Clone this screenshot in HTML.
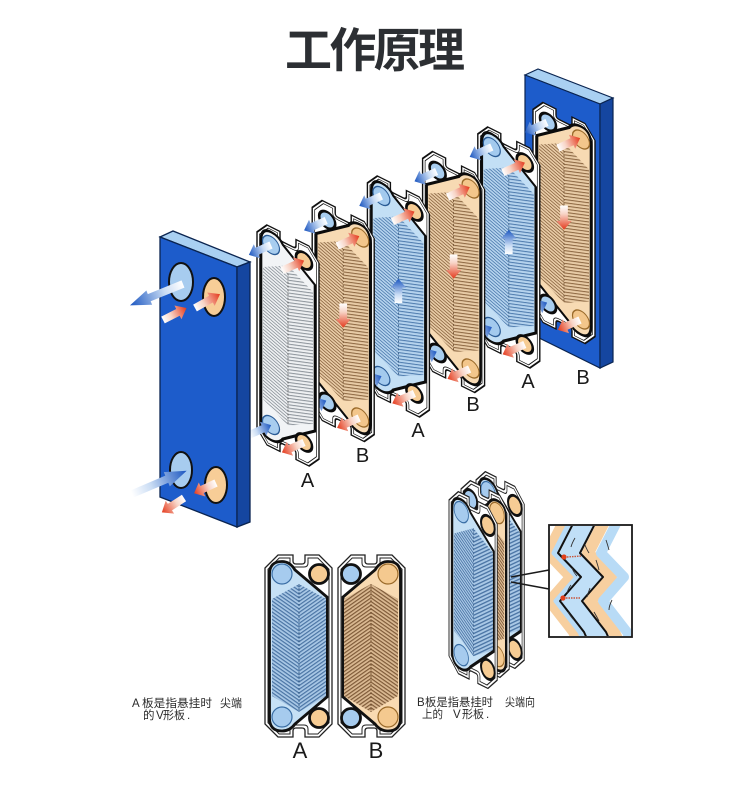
<!DOCTYPE html>
<html><head><meta charset="utf-8"><style>
html,body{margin:0;padding:0;background:#fff;}
svg{display:block;}
text{font-family:"Liberation Sans","Noto Sans CJK SC",sans-serif;}
</style></head><body>
<svg width="750" height="793" viewBox="0 0 750 793" xmlns="http://www.w3.org/2000/svg">
<defs>
<linearGradient id="gB" x1="0" y1="0" x2="1" y2="0"><stop offset="0" stop-color="#ffffff"/><stop offset="0.35" stop-color="#c9dcf4"/><stop offset="1" stop-color="#1a55c0"/></linearGradient>
<linearGradient id="gR" x1="0" y1="0" x2="1" y2="0"><stop offset="0" stop-color="#ffffff"/><stop offset="0.35" stop-color="#f8d4c6"/><stop offset="1" stop-color="#e4391c"/></linearGradient>
<path id="aB" d="M0,-3.5 L14,-3.5 L14,-7 L22,0 L14,7 L14,3.5 L0,3.5 Z" fill="url(#gB)"/>
<path id="aR" d="M0,-3.5 L14,-3.5 L14,-7 L22,0 L14,7 L14,3.5 L0,3.5 Z" fill="url(#gR)"/>

<pattern id="pBl" width="3" height="3" patternUnits="userSpaceOnUse" patternTransform="rotate(20)"><rect width="3" height="3" fill="#b5d3ee"/><rect width="3" height="1" fill="#4f7cae"/></pattern>
<pattern id="pBr" width="3" height="3" patternUnits="userSpaceOnUse" patternTransform="rotate(-20)"><rect width="3" height="3" fill="#b5d3ee"/><rect width="3" height="1" fill="#4f7cae"/></pattern>
<pattern id="pTl" width="3" height="3" patternUnits="userSpaceOnUse" patternTransform="rotate(20)"><rect width="3" height="3" fill="#e8cba6"/><rect width="3" height="1" fill="#8d6843"/></pattern>
<pattern id="pTr" width="3" height="3" patternUnits="userSpaceOnUse" patternTransform="rotate(-20)"><rect width="3" height="3" fill="#e8cba6"/><rect width="3" height="1" fill="#8d6843"/></pattern>
<pattern id="pGl" width="3" height="3" patternUnits="userSpaceOnUse" patternTransform="rotate(20)"><rect width="3" height="3" fill="#eef0f2"/><rect width="3" height="1" fill="#8e959c"/></pattern>
<pattern id="pGr" width="3" height="3" patternUnits="userSpaceOnUse" patternTransform="rotate(-20)"><rect width="3" height="3" fill="#eef0f2"/><rect width="3" height="1" fill="#8e959c"/></pattern>

<pattern id="fBl" width="3" height="3" patternUnits="userSpaceOnUse" patternTransform="rotate(35)"><rect width="3" height="3" fill="#a9c8e6"/><rect width="3" height="1.2" fill="#4a74a4"/></pattern>
<pattern id="fBr" width="3" height="3" patternUnits="userSpaceOnUse" patternTransform="rotate(-35)"><rect width="3" height="3" fill="#a9c8e6"/><rect width="3" height="1.2" fill="#4a74a4"/></pattern>
<pattern id="fTl" width="3" height="3" patternUnits="userSpaceOnUse" patternTransform="rotate(-35)"><rect width="3" height="3" fill="#dbba93"/><rect width="3" height="1.2" fill="#7e5a38"/></pattern>
<pattern id="fTr" width="3" height="3" patternUnits="userSpaceOnUse" patternTransform="rotate(35)"><rect width="3" height="3" fill="#dbba93"/><rect width="3" height="1.2" fill="#7e5a38"/></pattern>

<path id="out3" d="M0,14 L10,2 L23,2 L23,8 Q23,11 26,11 L36,11 Q39,11 39,8 L39,2 L52,2 L62,14 L62,210 L52,222 L39,222 L39,216 Q39,213 36,213 L26,213 Q23,213 23,216 L23,222 L10,222 L0,210 Z"/>
<path id="in3" d="M2.5,15 L11.2,4.5 L20.5,4.5 L20.5,9 Q20.5,13.5 26,13.5 L36,13.5 Q41.5,13.5 41.5,9 L41.5,4.5 L50.8,4.5 L59.5,15 L59.5,209 L50.8,219.5 L41.5,219.5 L41.5,215 Q41.5,210.5 36,210.5 L26,210.5 Q20.5,210.5 20.5,215 L20.5,219.5 L11.2,219.5 L2.5,209 Z"/>
<path id="gas3" d="M4,20 Q4,7 14,7 Q22,7 26,14 L58,38 L58,184 L26,208 Q22,215 14,215 Q4,215 4,202 Z"/>

<g id="t3G">
<use href="#out3" fill="#fff" stroke="#111" stroke-width="1.4"/>
<use href="#in3" fill="none" stroke="#111" stroke-width="0.7"/>
<use href="#gas3" fill="#f2f4f6" stroke="#0b0b0b" stroke-width="2.6"/>
<polygon points="6,46 31,32 31,192 6,178" fill="url(#pGl)"/>
<polygon points="31,32 56,46 56,178 31,192" fill="url(#pGr)"/>
<line x1="31" y1="32" x2="31" y2="192" stroke="#555" stroke-width="0.8" stroke-dasharray="2 2"/>
<circle cx="14" cy="20" r="8.5" fill="#a8cdef" stroke="#2a5b95" stroke-width="1.2"/>
<circle cx="14" cy="200" r="8.5" fill="#a8cdef" stroke="#2a5b95" stroke-width="1.2"/>
<circle cx="47" cy="19" r="8" fill="#f6cc94" stroke="#0b0b0b" stroke-width="2.6"/>
<circle cx="47" cy="201" r="8" fill="#f6cc94" stroke="#0b0b0b" stroke-width="2.6"/>
</g>
<g id="t3A">
<use href="#out3" fill="#fff" stroke="#111" stroke-width="1.4"/>
<use href="#in3" fill="none" stroke="#111" stroke-width="0.7"/>
<use href="#gas3" fill="#c3dff5" stroke="#0b0b0b" stroke-width="2.6"/>
<polygon points="6,46 31,32 31,192 6,178" fill="url(#pBl)"/>
<polygon points="31,32 56,46 56,178 31,192" fill="url(#pBr)"/>
<line x1="31" y1="32" x2="31" y2="192" stroke="#2f5580" stroke-width="0.8" stroke-dasharray="2 2"/>
<circle cx="14" cy="20" r="8.5" fill="#a3caee" stroke="#2a5b95" stroke-width="1.2"/>
<circle cx="14" cy="200" r="8.5" fill="#a3caee" stroke="#2a5b95" stroke-width="1.2"/>
<circle cx="47" cy="19" r="8" fill="#f6cc94" stroke="#0b0b0b" stroke-width="2.6"/>
<circle cx="47" cy="201" r="8" fill="#f6cc94" stroke="#0b0b0b" stroke-width="2.6"/>
</g>
<g id="t3B">
<use href="#out3" fill="#fff" stroke="#111" stroke-width="1.4"/>
<use href="#in3" fill="none" stroke="#111" stroke-width="0.7"/>
<g transform="translate(62,0) scale(-1,1)">
<use href="#gas3" fill="#f7dab3" stroke="#0b0b0b" stroke-width="2.6"/>
<polygon points="6,46 31,32 31,192 6,178" fill="url(#pTl)"/>
<polygon points="31,32 56,46 56,178 31,192" fill="url(#pTr)"/>
<line x1="31" y1="32" x2="31" y2="192" stroke="#6b4a2a" stroke-width="0.8" stroke-dasharray="2 2"/>
<circle cx="14" cy="20" r="8.5" fill="#f3c68b" stroke="#9a6a2a" stroke-width="1.2"/>
<circle cx="14" cy="200" r="8.5" fill="#f3c68b" stroke="#9a6a2a" stroke-width="1.2"/>
<circle cx="47" cy="19" r="8" fill="#a8cdef" stroke="#0b0b0b" stroke-width="2.6"/>
<circle cx="47" cy="201" r="8" fill="#a8cdef" stroke="#0b0b0b" stroke-width="2.6"/>
</g>
</g>

<path id="outF" d="M0,13 L13,0 L28,0 L28,6 Q28,9 31,9 L37,9 Q40,9 40,6 L40,0 L54,0 L67,13 L67,169 L54,182 L40,182 L40,176 Q40,173 37,173 L31,173 Q28,173 28,176 L28,182 L13,182 L0,169 Z"/>
<path id="inF" d="M3,14.2 L14.2,3 L25,3 L25,8 Q25,12 29,12 L39,12 Q43,12 43,8 L43,3 L52.8,3 L64,14.2 L64,167.8 L52.8,179 L43,179 L43,174 Q43,170 39,170 L29,170 Q25,170 25,174 L25,179 L14.2,179 L3,167.8 Z"/>
<path id="gasF" d="M4.5,19 Q4.5,6.5 17,6.5 Q25,6.5 30,15 L62,42 L62,142 L30,169 Q25,176 17,176 Q4.5,176 4.5,163 Z"/>

<g id="fA">
<use href="#outF" fill="#fff" stroke="#222" stroke-width="1.3"/>
<use href="#inF" fill="none" stroke="#222" stroke-width="1"/>
<use href="#gasF" fill="#c5e0f5" stroke="#111" stroke-width="2.8"/>
<polygon points="7,44 34,29 34,157 7,141" fill="url(#fBl)"/>
<polygon points="34,29 61,44 61,141 34,157" fill="url(#fBr)"/>
<line x1="34" y1="29" x2="34" y2="157" stroke="#2f5580" stroke-width="0.8" stroke-dasharray="2 2"/>
<circle cx="17" cy="19" r="10" fill="#a6cbee" stroke="#3a6ea5" stroke-width="1.2"/>
<circle cx="17" cy="162" r="10" fill="#a6cbee" stroke="#3a6ea5" stroke-width="1.2"/>
<circle cx="54" cy="19" r="9.5" fill="#f6cc94" stroke="#111" stroke-width="2.8"/>
<circle cx="54" cy="163" r="9.5" fill="#f6cc94" stroke="#111" stroke-width="2.8"/>
</g>
<g id="fB">
<g transform="translate(67,0) scale(-1,1)">
<use href="#outF" fill="#fff" stroke="#222" stroke-width="1.3"/>
<use href="#inF" fill="none" stroke="#222" stroke-width="1"/>
<use href="#gasF" fill="#f8dab2" stroke="#111" stroke-width="2.8"/>
<polygon points="7,44 34,29 34,157 7,141" fill="url(#fTl)"/>
<polygon points="34,29 61,44 61,141 34,157" fill="url(#fTr)"/>
<line x1="34" y1="29" x2="34" y2="157" stroke="#6b4a2a" stroke-width="0.8" stroke-dasharray="2 2"/>
<circle cx="17" cy="19" r="10" fill="#f4c98f" stroke="#9a6a2a" stroke-width="1.2"/>
<circle cx="17" cy="162" r="10" fill="#f4c98f" stroke="#9a6a2a" stroke-width="1.2"/>
<circle cx="54" cy="19" r="9.5" fill="#a6cbee" stroke="#111" stroke-width="2.8"/>
<circle cx="54" cy="163" r="9.5" fill="#a6cbee" stroke="#111" stroke-width="2.8"/>
</g>
</g>

<polyline id="zz" points="578,514 558,553 581,577 560,601 584,632 592,650" fill="none" stroke-linejoin="round"/>
<clipPath id="cb"><rect x="550" y="526" width="81" height="110"/></clipPath>
</defs>

<!-- Title -->
<text x="375" y="67" font-size="47" font-weight="bold" fill="#2c2f33" text-anchor="middle" textLength="180" lengthAdjust="spacing">工作原理</text>

<!-- Right frame -->
<polygon points="525,75 538,69 613,98 600,104" fill="#a9d0f2" stroke="#0a2450" stroke-width="1.2"/>
<polygon points="525,75 600,104 600,368 525,331" fill="#1d5ccb" stroke="#0a2450" stroke-width="1.2"/>
<polygon points="600,104 613,98 613,362 600,368" fill="#1546a0" stroke="#0a2450" stroke-width="1.2"/>

<!-- plate k=5 (B) on right frame -->
<use href="#t3B" transform="translate(533,95.5) matrix(1,0.5,0,1,0,0)"/>
<use href="#aB" transform="translate(547,122.5) rotate(156) scale(1.1)"/>
<use href="#aR" transform="translate(558,148) rotate(-24) scale(1.1)"/>
<use href="#aB" transform="translate(525,312.5) rotate(-24) scale(1.1)"/>
<use href="#aR" transform="translate(580,320) rotate(156) scale(1.1)"/>
<use href="#aR" transform="translate(564,205.5) rotate(90) scale(1.1)"/>

<!-- k=4 (A blue) -->
<use href="#t3A" transform="translate(477.8,120) matrix(1,0.5,0,1,0,0)"/>
<use href="#aB" transform="translate(491.8,147) rotate(156) scale(1.1)"/>
<use href="#aR" transform="translate(502.8,172.5) rotate(-24) scale(1.1)"/>
<use href="#aB" transform="translate(469.8,337) rotate(-24) scale(1.1)"/>
<use href="#aR" transform="translate(524.8,344.5) rotate(156) scale(1.1)"/>
<use href="#aB" transform="translate(508.8,254) rotate(-90) scale(1.1)"/>

<!-- k=3 (B tan) -->
<use href="#t3B" transform="translate(422.6,144.5) matrix(1,0.5,0,1,0,0)"/>
<use href="#aB" transform="translate(436.6,171.5) rotate(156) scale(1.1)"/>
<use href="#aR" transform="translate(447.6,197) rotate(-24) scale(1.1)"/>
<use href="#aB" transform="translate(414.6,361.5) rotate(-24) scale(1.1)"/>
<use href="#aR" transform="translate(469.6,369) rotate(156) scale(1.1)"/>
<use href="#aR" transform="translate(453.6,254.5) rotate(90) scale(1.1)"/>

<!-- k=2 (A blue) -->
<use href="#t3A" transform="translate(367.4,169) matrix(1,0.5,0,1,0,0)"/>
<use href="#aB" transform="translate(381.4,196) rotate(156) scale(1.1)"/>
<use href="#aR" transform="translate(392.4,221.5) rotate(-24) scale(1.1)"/>
<use href="#aB" transform="translate(359.4,386) rotate(-24) scale(1.1)"/>
<use href="#aR" transform="translate(414.4,393.5) rotate(156) scale(1.1)"/>
<use href="#aB" transform="translate(398.4,303) rotate(-90) scale(1.1)"/>

<!-- k=1 (B tan) -->
<use href="#t3B" transform="translate(312.2,193.5) matrix(1,0.5,0,1,0,0)"/>
<use href="#aB" transform="translate(326.2,220.5) rotate(156) scale(1.1)"/>
<use href="#aR" transform="translate(337.2,246) rotate(-24) scale(1.1)"/>
<use href="#aB" transform="translate(304.2,410.5) rotate(-24) scale(1.1)"/>
<use href="#aR" transform="translate(359.2,418) rotate(156) scale(1.1)"/>
<use href="#aR" transform="translate(343.2,303.5) rotate(90) scale(1.1)"/>

<!-- k=0 (grey A) -->
<use href="#t3G" transform="translate(257,218) matrix(1,0.5,0,1,0,0)"/>
<use href="#aB" transform="translate(271,245) rotate(156) scale(1.1)"/>
<use href="#aR" transform="translate(282,270.5) rotate(-24) scale(1.1)"/>
<use href="#aB" transform="translate(249,435) rotate(-24) scale(1.1)"/>
<use href="#aR" transform="translate(304,442.5) rotate(156) scale(1.1)"/>

<!-- Left frame -->
<polygon points="160,237 173,231 250,262 237,267" fill="#a9d0f2" stroke="#0a2450" stroke-width="1.3"/>
<polygon points="160,237 237,267 237,527 160,497" fill="#1d5ccb" stroke="#0a2450" stroke-width="1.3"/>
<polygon points="237,267 250,262 250,522 237,527" fill="#1546a0" stroke="#0a2450" stroke-width="1.3"/>
<ellipse cx="181" cy="282" rx="12" ry="19" fill="#a7ccef" stroke="#111" stroke-width="2"/>
<ellipse cx="214" cy="297" rx="11" ry="19" fill="#f7cd97" stroke="#111" stroke-width="2"/>
<ellipse cx="181" cy="470" rx="11" ry="18" fill="#a7ccef" stroke="#111" stroke-width="2"/>
<ellipse cx="216" cy="485" rx="11" ry="18" fill="#f7cd97" stroke="#111" stroke-width="2"/>
<use href="#aB" transform="translate(183,284) rotate(158) scale(2.6,1.1)"/>
<use href="#aR" transform="translate(195,308) rotate(-29) scale(1.3,1.1)"/>
<use href="#aR" transform="translate(163,320) rotate(-27) scale(1.2,1.1)"/>
<use href="#aB" transform="translate(132,494) rotate(-23) scale(2.7,1.1)"/>
<use href="#aR" transform="translate(216,483) rotate(155) scale(1.1)"/>
<use href="#aR" transform="translate(184,498) rotate(147) scale(1.2,1.1)"/>

<!-- 3D labels -->
<g font-size="20" fill="#1a1a1a" text-anchor="middle">
<text x="307.5" y="487">A</text>
<text x="362.5" y="462">B</text>
<text x="418" y="437">A</text>
<text x="473" y="411">B</text>
<text x="528" y="388">A</text>
<text x="583" y="384">B</text>
</g>

<!-- Front view plates -->
<use href="#fA" transform="translate(265,555)"/>
<use href="#fB" transform="translate(338,555)"/>
<g font-size="22" fill="#1a1a1a" text-anchor="middle">
<text x="300" y="758">A</text>
<text x="376" y="758">B</text>
</g>

<!-- Stacked plates -->
<use href="#fA" transform="matrix(0.72,0.36,0,1,476,467)"/>
<use href="#fB" transform="matrix(0.72,0.36,0,1,461,476)"/>
<use href="#fA" transform="matrix(0.72,0.36,0,1,449,487)"/>

<!-- Callout -->
<line x1="511" y1="577" x2="549" y2="570" stroke="#1a1a1a" stroke-width="1.5"/>
<line x1="511" y1="582" x2="549" y2="589" stroke="#1a1a1a" stroke-width="1.5"/>
<rect x="549" y="525" width="83" height="112" fill="#fff" stroke="#1a1a1a" stroke-width="1.8"/>
<g clip-path="url(#cb)">
<use href="#zz" x="-11" stroke="#f7cf9f" stroke-width="10"/>
<use href="#zz" x="-4" stroke="#b8dbf6" stroke-width="5"/>
<use href="#zz" x="11" stroke="#c0dff7" stroke-width="18"/>
<use href="#zz" x="30" stroke="#f7cf9f" stroke-width="12"/>
<use href="#zz" x="43" stroke="#b8dbf6" stroke-width="10"/>
<use href="#zz" stroke="#111" stroke-width="2"/>
<use href="#zz" x="22" stroke="#111" stroke-width="2"/>
<g fill="none" stroke="#333" stroke-width="0.9">
<path d="M575,538 q-3,5 -4,9"/>
<path d="M585,545 q2,5 4,8"/>
<path d="M572,568 q2,5 5,8"/>
<path d="M596,560 q2,6 3,10"/>
<path d="M571,585 q-3,4 -4,8"/>
<path d="M590,588 q-2,5 -3,9"/>
<path d="M568,612 q3,5 6,8"/>
<path d="M594,612 q3,5 5,9"/>
<path d="M606,540 q2,6 3,10"/>
<path d="M612,600 q-3,6 -3,10"/>
</g>
<circle cx="564" cy="557" r="2.6" fill="#e2401c"/>
<line x1="567" y1="557" x2="582" y2="556" stroke="#c8553a" stroke-width="1.4" stroke-dasharray="1.5 1"/>
<circle cx="563" cy="598" r="2.6" fill="#e2401c"/>
<line x1="566" y1="598" x2="580" y2="598" stroke="#c8553a" stroke-width="1.4" stroke-dasharray="1.5 1"/>
</g>

<!-- Bottom texts -->
<g font-size="11.5" fill="#2a2a2a">
<text x="132" y="707">A</text>
<text x="142" y="707" textLength="70" lengthAdjust="spacingAndGlyphs">板是指悬挂时</text>
<text x="220" y="707" textLength="22" lengthAdjust="spacingAndGlyphs">尖端</text>
<text x="143" y="719">的</text>
<text x="156" y="719">V</text>
<text x="163" y="719" textLength="22" lengthAdjust="spacingAndGlyphs">形板</text>
<text x="187" y="719">.</text>

<text x="417" y="706">B</text>
<text x="425" y="706" textLength="68" lengthAdjust="spacingAndGlyphs">板是指悬挂时</text>
<text x="505" y="706" textLength="30" lengthAdjust="spacingAndGlyphs">尖端向</text>
<text x="422" y="718" textLength="21" lengthAdjust="spacingAndGlyphs">上的</text>
<text x="453" y="718">V</text>
<text x="462" y="718" textLength="22" lengthAdjust="spacingAndGlyphs">形板</text>
<text x="486" y="718">.</text>
</g>
</svg>
</body></html>
